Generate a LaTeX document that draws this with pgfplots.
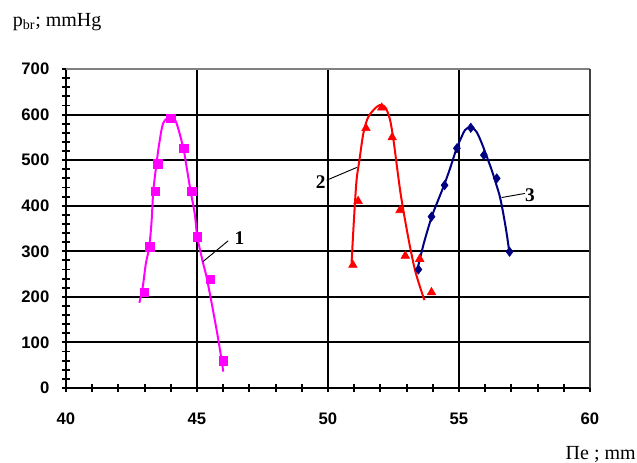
\documentclass[border=0pt]{standalone}
\usepackage{fontspec}
\setmainfont{Liberation Serif}
\newfontfamily\arial{Liberation Sans}
\usepackage{pgfplots}
\pgfplotsset{compat=1.18}
\definecolor{mag}{RGB}{255,0,255}
\definecolor{nav}{RGB}{0,0,128}
\begin{document}
\begin{tikzpicture}
\useasboundingbox (-49.5pt,-55.5pt) rectangle (428.25pt,291pt);
\begin{axis}[
  scale only axis, width=393pt, height=239.25pt,
  xmin=40, xmax=60, ymin=0, ymax=700,
  xtick={40,45,...,60}, ytick={0,100,...,700},
  minor x tick num=4, minor y tick num=4,
  tick align=center, major tick length=6pt, minor tick length=6pt,
  tick style={black, line width=1.4pt},
  grid=major, major grid style={black, line width=1.5pt},
  axis x line*=bottom, axis y line*=left,
  axis line style={black, line width=1.5pt, -},
  ticklabel style={font=\arial\bfseries\fontsize{12.5}{14}\selectfont},
  /pgf/number format/assume math mode=true,
  xticklabel style={yshift=-12pt},
  yticklabel style={xshift=-6pt},
  clip=false,
]
% series 1 curve
\addplot[mag, line width=1.5pt, smooth, no marks] coordinates {
(42.80,187) (42.93,222) (43.05,274) (43.18,310) (43.27,369) (43.33,431) (43.44,486) (43.56,537) (43.71,581) (43.97,595) (44.20,584) (44.48,526) (44.60,486) (44.76,431) (44.92,380) (45.01,332) (45.22,277) (45.39,237) (45.75,127) (45.94,61) (46.00,36)};
\addplot[only marks, mark=square*, mark size=3.1pt, color=mag] coordinates {
(43.0,210) (43.2,310) (43.4,431) (43.5,492) (44.0,592) (44.5,526) (44.8,431) (45.0,332) (45.5,239) (46.0,60)};
% series 2 curve
\addplot[red, line width=1.5pt, smooth, no marks] coordinates {
(50.90,275) (50.99,369) (51.09,456) (51.20,500) (51.35,559) (51.54,595) (51.86,617) (52.05,621) (52.21,614) (52.37,588) (52.50,544) (52.65,478) (52.77,427) (52.94,369) (53.13,310) (53.32,259) (53.51,222) (53.68,193)};
\addplot[only marks, mark=triangle*, mark size=3.7pt, color=red] coordinates {
(50.95,270) (51.15,410) (51.45,570) (52.05,615) (52.45,550) (52.75,390) (52.95,290) (53.5,283) (53.95,210)};
% series 3 curve
\addplot[nav, line width=1.5pt, smooth, no marks] coordinates {
(53.41,260) (53.66,318) (53.96,376) (54.21,413) (54.43,445) (54.66,482) (54.91,526) (55.10,551) (55.23,566) (55.45,573) (55.67,562) (55.87,537) (56.06,508) (56.25,478) (56.41,449) (56.56,420) (56.69,383) (56.82,339) (56.92,299)};
\addplot[only marks, mark=diamond*, mark size=3.5pt, color=nav] coordinates {
(53.45,260) (53.95,376) (54.45,445) (54.92,526) (55.45,571) (55.95,511) (56.44,460) (56.93,299)};
% curve labels
\draw[black, line width=0.7pt] (axis cs:45.22,277) -- (axis cs:46.19,323);
\node[font=\bfseries\fontsize{14.5}{16}\selectfont] at (axis cs:46.62,328) {1};
\draw[black, line width=0.7pt] (axis cs:49.95,456) -- (axis cs:51.10,484);
\node[font=\bfseries\fontsize{14.5}{16}\selectfont] at (axis cs:49.72,452) {2};
\draw[black, line width=0.7pt] (axis cs:56.63,418) -- (axis cs:57.52,427);
\node[font=\bfseries\fontsize{14.5}{16}\selectfont] at (axis cs:57.71,423) {3};
% frame top/right
\draw[gray, line width=1.5pt] (rel axis cs:0,1) -- (rel axis cs:1,1);
\draw[black!75, line width=1.5pt] (rel axis cs:1,0) -- (rel axis cs:1,1);
\end{axis}
\node[anchor=base west, font=\fontsize{15}{17}\selectfont, inner sep=0pt] at (-40pt,271pt) {p\textsubscript{br}; mmHg};
\node[anchor=base east, font=\fontsize{15}{17}\selectfont, inner sep=0pt] at (427.5pt,-53.25pt) {Пе ; mm};
\end{tikzpicture}
\end{document}
